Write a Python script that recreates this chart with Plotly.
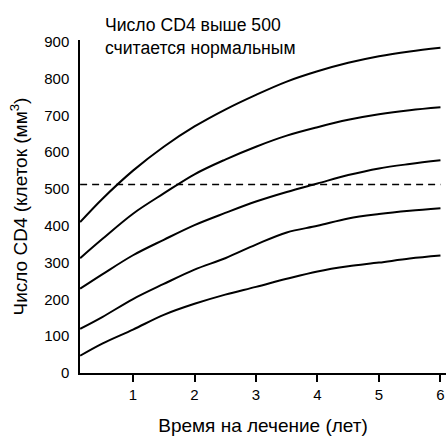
import plotly.graph_objects as go

years = [0.14, 0.5, 1, 1.5, 2, 2.5, 3, 3.5, 4, 4.5, 5, 5.5, 6]
curve1 = [410, 473, 550, 615, 670, 716, 756, 792, 820, 843, 861, 874, 884]
curve2 = [312, 364, 433, 488, 540, 580, 615, 645, 668, 688, 703, 714, 722]
curve3 = [229, 268, 320, 362, 402, 435, 466, 492, 515, 538, 556, 568, 578]
curve4 = [120, 152, 201, 242, 281, 312, 349, 382, 400, 420, 432, 441, 448]
curve5 = [47, 80, 118, 158, 188, 213, 234, 256, 276, 290, 300, 311, 319]
threshold = 512
x_ticks = [1, 2, 3, 4, 5, 6]
y_ticks = [0, 100, 200, 300, 400, 500, 600, 700, 800, 900]

FONT = "Liberation Sans, Arial, sans-serif"

fig = go.Figure()
for c in [curve1, curve2, curve3, curve4, curve5]:
    fig.add_trace(go.Scatter(x=years, y=c, mode="lines",
                             line=dict(color="black", width=2, shape="spline", smoothing=1.0),
                             showlegend=False, hoverinfo="skip"))

fig.add_trace(go.Scatter(x=[years[0], years[-1]], y=[threshold, threshold], mode="lines",
                         line=dict(color="black", width=1.5, dash="7px,5px"),
                         showlegend=False, hoverinfo="skip"))

fig.add_annotation(text="Число CD4 выше 500<br>считается нормальным",
                   xref="paper", yref="paper", x=0.063, y=1.0, yshift=27,
                   xanchor="left", yanchor="top", align="left", showarrow=False,
                   font=dict(family=FONT, size=17.6, color="black"))

fig.update_layout(
    width=446, height=436,
    margin=dict(l=80, r=0, t=40, b=63),
    paper_bgcolor="white", plot_bgcolor="white",
    font=dict(family=FONT, color="black"),
)
fig.update_xaxes(range=[0.138, 6.09], tickvals=x_ticks, ticks="outside", ticklen=7,
                 tickwidth=1.5, tickcolor="black", showline=True, linecolor="black",
                 linewidth=1.5, showgrid=False, zeroline=False, automargin=False,
                 tickfont=dict(size=15), title=dict(text="Время на лечение (лет)",
                 font=dict(size=19), standoff=18))
fig.update_yaxes(range=[0, 905], tickvals=y_ticks, ticks="", showline=True,
                 linecolor="black", linewidth=1.5, showgrid=False, zeroline=False,
                 automargin=False, ticklabelstandoff=6, tickfont=dict(size=15),
                 title=dict(text="Число CD4 (клеток (мм<sup>3</sup>)", font=dict(size=19),
                            standoff=12))

fig.write_html("out.html", config={"displayModeBar": False},
               post_script="document.body.style.margin='0px';")
